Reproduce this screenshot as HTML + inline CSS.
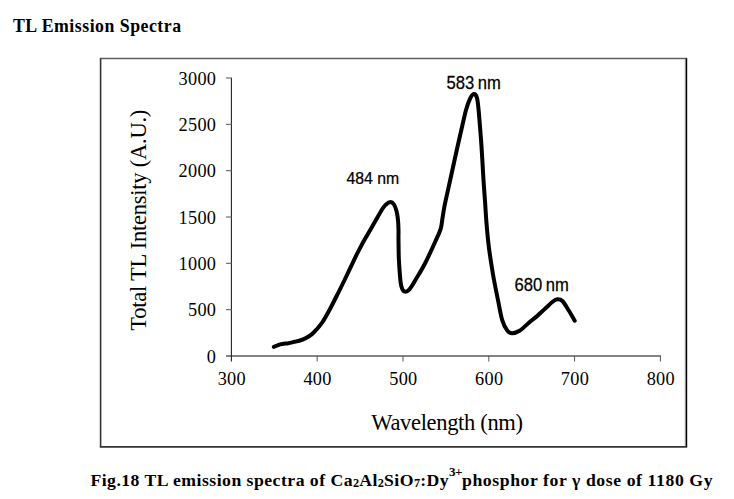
<!DOCTYPE html>
<html><head><meta charset="utf-8">
<style>
html,body{margin:0;padding:0;background:#fff;}
body{width:734px;height:499px;overflow:hidden;position:relative;}
svg{position:absolute;left:0;top:0;}
.serif{font-family:"Liberation Serif",serif;}
.sans{font-family:"Liberation Sans",sans-serif;}
</style></head>
<body>
<svg width="734" height="499" viewBox="0 0 734 499">
<!-- title -->
<text x="13" y="31.8" class="serif" font-weight="bold" font-size="17.8" letter-spacing="0.5" fill="#000">TL Emission Spectra</text>
<!-- chart border -->
<g fill="none">
<line x1="99.8" y1="58.5" x2="687.2" y2="58.5" stroke="#606060" stroke-width="1.5"/>
<line x1="100.6" y1="58.5" x2="100.6" y2="446.9" stroke="#333" stroke-width="1.6"/>
<line x1="685" y1="59.5" x2="685" y2="446" stroke="#ddd" stroke-width="1.2"/>
<line x1="686.4" y1="58.5" x2="686.4" y2="446.9" stroke="#000" stroke-width="1.6"/>
<line x1="99.8" y1="446.9" x2="687.2" y2="446.9" stroke="#333" stroke-width="1.9"/>
</g>
<!-- axes -->
<line x1="226" y1="356" x2="661" y2="356" stroke="#5a5a5a" stroke-width="1.7"/>
<line x1="231.4" y1="78" x2="231.4" y2="361.5" stroke="#222" stroke-width="1.1"/>
<g stroke="#555" stroke-width="1">
<line x1="226" y1="78" x2="232" y2="78"/>
<line x1="226" y1="124.3" x2="232" y2="124.3"/>
<line x1="226" y1="170.7" x2="232" y2="170.7"/>
<line x1="226" y1="217" x2="232" y2="217"/>
<line x1="226" y1="263.3" x2="232" y2="263.3"/>
<line x1="226" y1="309.7" x2="232" y2="309.7"/>
<line x1="317.2" y1="356" x2="317.2" y2="361.5"/>
<line x1="403" y1="356" x2="403" y2="361.5"/>
<line x1="488.8" y1="356" x2="488.8" y2="361.5"/>
<line x1="574.6" y1="356" x2="574.6" y2="361.5"/>
<line x1="660.4" y1="356" x2="660.4" y2="361.5"/>
</g>
<g class="serif" font-size="18.3" letter-spacing="0.3" fill="#000" text-anchor="end">
<text x="216.3" y="84.5">3000</text>
<text x="216.3" y="130.8">2500</text>
<text x="216.3" y="177.2">2000</text>
<text x="216.3" y="223.5">1500</text>
<text x="216.3" y="269.8">1000</text>
<text x="216.3" y="316.2">500</text>
<text x="216.3" y="362.5">0</text>
</g>
<g class="serif" font-size="18.3" letter-spacing="0.3" fill="#000" text-anchor="middle">
<text x="231.8" y="385">300</text>
<text x="317.6" y="385">400</text>
<text x="403.4" y="385">500</text>
<text x="489.2" y="385">600</text>
<text x="575.0" y="385">700</text>
<text x="660.8" y="385">800</text>
</g>
<text x="447" y="430" class="serif" font-size="22.5" letter-spacing="-0.33" text-anchor="middle" fill="#000">Wavelength (nm)</text>
<text transform="translate(146,220.3) rotate(-90)" class="serif" font-size="22.5" letter-spacing="-0.23" text-anchor="middle" fill="#000">Total TL Intensity (A.U.)</text>
<g class="sans" fill="#000" stroke="#000" stroke-width="0.25">
<text transform="translate(346.5,183.6) scale(0.97,1)" font-size="16.3">484 nm</text>
<text transform="translate(446.5,88.6) scale(0.95,1)" font-size="17.5" word-spacing="-1">583 nm</text>
<text transform="translate(514.5,290.8) scale(0.95,1)" font-size="17.5" word-spacing="-1">680 nm</text>
</g>
<path d="M273.8 346.9 C274.9 346.5 277.8 345.0 280.2 344.4 C282.6 343.8 286.0 343.6 288.4 343.2 C290.8 342.8 292.6 342.2 294.5 341.8 C296.4 341.4 298.1 341.1 300.0 340.5 C301.9 339.9 304.0 339.1 306.0 338.0 C308.0 336.9 310.2 335.6 312.0 334.1 C313.8 332.6 315.2 331.0 317.0 329.0 C318.8 327.0 320.3 325.3 322.5 322.0 C324.7 318.7 327.6 313.5 330.0 309.0 C332.4 304.5 334.8 299.7 337.1 295.0 C339.5 290.3 341.3 286.8 344.1 281.0 C346.9 275.2 351.4 265.6 354.0 260.1 C356.6 254.6 358.0 251.9 360.0 248.1 C362.0 244.2 363.9 240.8 366.1 237.0 C368.3 233.2 370.5 229.6 373.1 225.0 C375.8 220.4 379.9 212.9 382.0 209.5 C384.1 206.1 384.6 205.8 386.0 204.5 C387.4 203.2 389.2 202.0 390.5 202.0 C391.8 202.0 393.0 203.0 394.0 204.5 C395.0 206.0 395.8 208.4 396.5 211.0 C397.2 213.6 397.7 216.8 398.0 220.0 C398.3 223.2 398.4 226.7 398.5 230.0 C398.6 233.3 398.4 235.3 398.5 240.0 C398.6 244.7 398.6 252.0 398.8 258.0 C399.1 264.0 399.6 271.4 400.0 276.0 C400.4 280.6 400.5 283.1 401.2 285.7 C401.9 288.3 402.8 290.8 404.2 291.4 C405.6 292.0 407.4 291.6 409.5 289.3 C411.6 287.0 414.1 282.3 416.8 277.8 C419.5 273.3 422.4 268.6 425.5 262.5 C428.6 256.4 432.8 247.1 435.3 241.5 C437.8 235.9 439.5 232.8 440.7 228.9 C441.9 225.0 441.9 221.6 442.5 218.0 C443.1 214.4 443.6 211.0 444.3 207.2 C445.0 203.4 445.8 199.9 446.8 195.4 C447.8 190.9 448.9 186.1 450.2 180.0 C451.5 173.9 453.1 166.7 454.8 159.0 C456.5 151.3 458.5 142.2 460.4 134.0 C462.3 125.8 464.4 115.9 466.0 110.0 C467.6 104.1 468.9 101.1 470.2 98.4 C471.5 95.7 472.7 94.1 473.8 94.0 C474.9 93.9 476.2 95.0 477.0 98.0 C477.8 101.0 478.1 104.2 478.8 112.0 C479.5 119.8 480.6 133.7 481.4 145.0 C482.2 156.3 482.9 170.7 483.5 180.0 C484.1 189.3 484.5 194.0 485.0 201.0 C485.5 208.0 485.8 214.7 486.4 222.0 C487.0 229.3 487.8 238.3 488.6 245.0 C489.4 251.7 490.1 256.2 491.0 262.0 C491.9 267.8 492.8 273.6 494.0 280.0 C495.2 286.4 496.6 293.4 498.0 300.2 C499.4 307.0 500.8 315.6 502.4 320.7 C503.9 325.8 505.7 328.5 507.3 330.6 C508.9 332.7 510.2 333.2 512.2 333.2 C514.2 333.2 516.4 332.8 519.5 330.8 C522.6 328.8 527.9 323.4 530.6 321.2 C533.3 319.0 533.0 319.5 535.5 317.4 C538.0 315.3 542.4 311.1 545.3 308.5 C548.1 305.9 550.6 303.4 552.6 301.8 C554.6 300.2 555.9 299.3 557.5 299.2 C559.1 299.1 560.5 299.2 562.4 301.0 C564.2 302.8 566.5 306.9 568.6 310.2 C570.7 313.5 573.7 318.9 574.7 320.7" fill="none" stroke="#000" stroke-width="4" stroke-linecap="round" stroke-linejoin="round"/>
<!-- caption -->
<text x="90.4" y="485.9" class="serif" font-weight="bold" font-size="17.7" letter-spacing="0.48" fill="#000">Fig.18 TL emission spectra of Ca<tspan font-size="12.3" letter-spacing="0" dy="1.5">2</tspan><tspan dy="-1.5">Al</tspan><tspan font-size="12.3" letter-spacing="0" dy="1.5">2</tspan><tspan dy="-1.5">SiO</tspan><tspan font-size="12.3" letter-spacing="0" dy="1.5">7</tspan><tspan dy="-1.5">:Dy</tspan><tspan font-size="13" letter-spacing="-0.5" dy="-9.5">3+</tspan><tspan dy="9.5" letter-spacing="0.58">phosphor for γ dose of 1180 Gy</tspan></text>
</svg>
</body></html>
